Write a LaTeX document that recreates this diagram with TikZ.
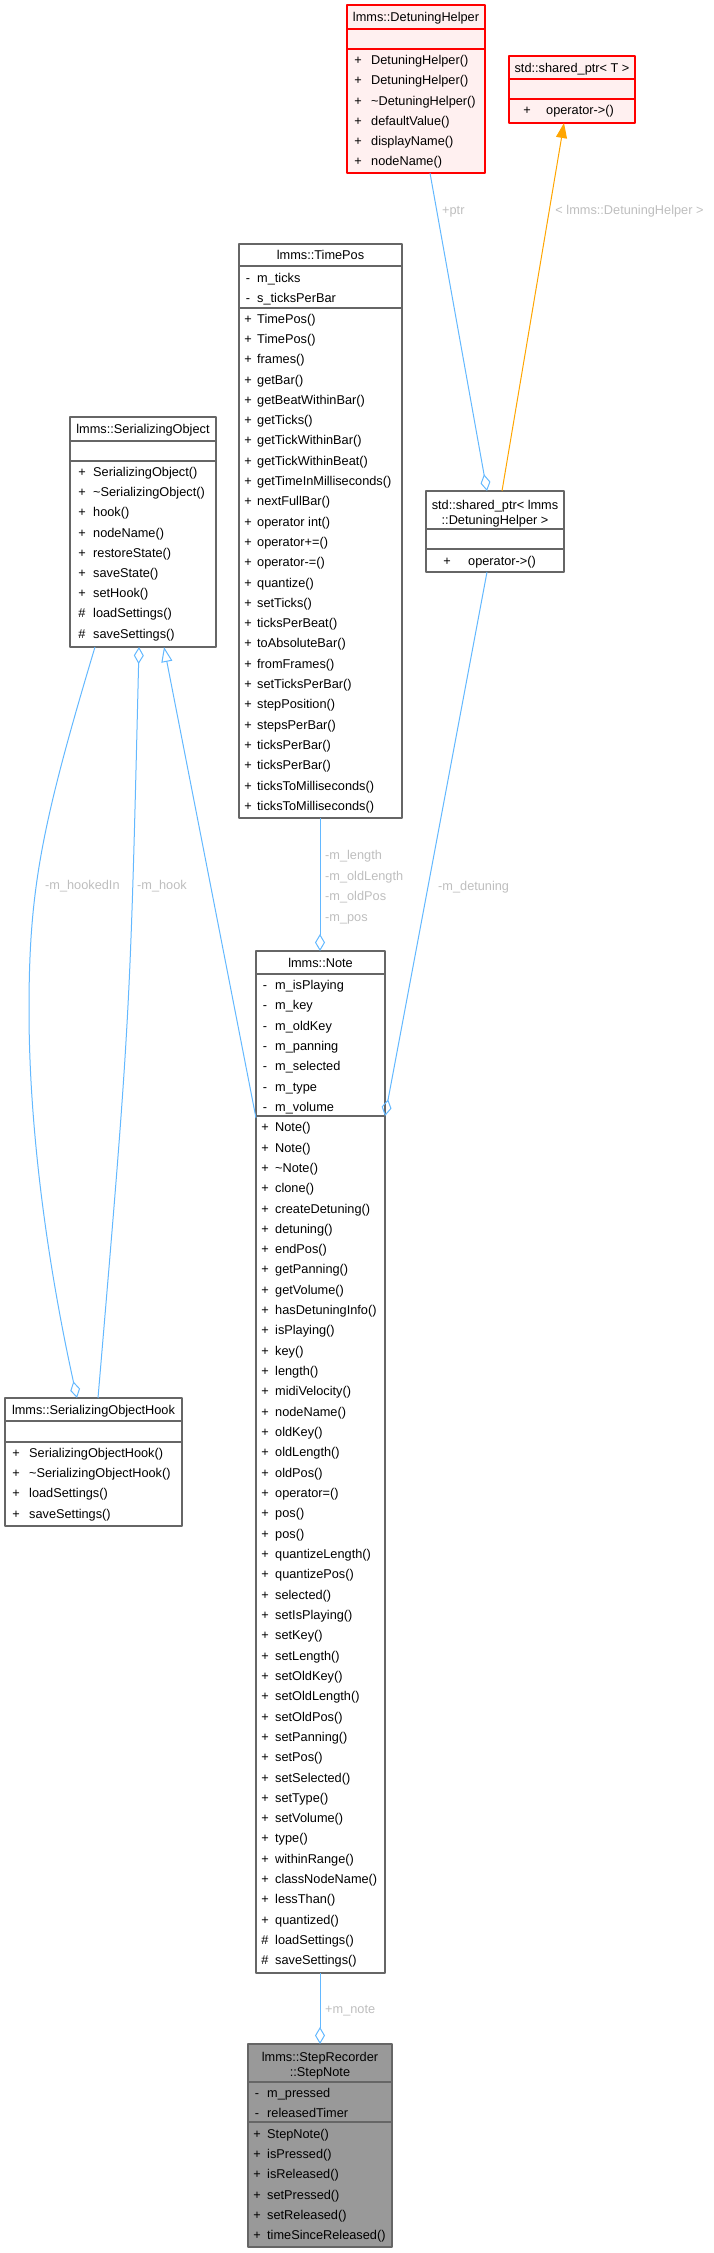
\documentclass[tikz,border=0pt]{standalone}
\usepackage{fontspec}
\setmainfont{Liberation Sans}
\usetikzlibrary{arrows.meta}
\definecolor{boxgray}{HTML}{666666}
\definecolor{rootgray}{HTML}{999999}
\definecolor{undocfill}{HTML}{FFF0F0}
\definecolor{usageblue}{HTML}{63B8FF}
\definecolor{tmplorange}{HTML}{FFA500}
\definecolor{lblgray}{HTML}{BEBEBE}
\tikzset{
  every picture/.style={line join=round, font=\fontsize{12.75}{15}\selectfont},
  classbox/.style={draw=boxgray, line width=1.1pt, fill=white, inner sep=0pt, outer sep=0pt, anchor=north west},
  undoc/.style={classbox, draw=red, fill=undocfill},
  rootbox/.style={classbox, fill=rootgray},
  sepline/.style={draw=boxgray, line width=1.1pt},
  title/.style={inner sep=0pt, anchor=base},
  sgn/.style={inner sep=0pt, anchor=base},
  mem/.style={inner sep=0pt, anchor=base west},
  usage/.style={draw=usageblue, line width=1pt},
  tmpl/.style={draw=tmplorange, line width=1pt},
  lbl/.style={text=lblgray, inner sep=0pt, anchor=base west},
  has/.style={{Diamond[open, length=17pt, width=10pt]}-},
  isa/.style={-{Triangle[open, length=15pt, width=11pt]}},
}
\begin{document}
\begin{tikzpicture}[x=1pt, y=-1pt]
\useasboundingbox (0,0) rectangle (714,2253);

% lmms::DetuningHelper
\node[undoc, minimum width=138pt, minimum height=168pt] (dh) at (347,5) {};
\node[title] (dhtitle) at (416,21.5) {lmms::DetuningHelper};
\draw[sepline, draw=red] (347,29) -- (485,29) (347,49) -- (485,49);
\foreach \s/\m [count=\i from 0] in {+/DetuningHelper(), +/DetuningHelper(), +/\textasciitilde DetuningHelper(),
    +/defaultValue(), +/displayName(), +/nodeName()}{
  \node[sgn] (dhs\i) at (358,60+\i*20.3+4.5) {\s};
  \node[mem] (dhm\i) at (371,60+\i*20.3+4.5) {\m};
}

% std::shared_ptr< T >
\node[undoc, minimum width=126pt, minimum height=67pt] (spT) at (509,56) {};
\node[title] (spTtitle) at (572,72.5) {std::shared\_ptr< T >};
\draw[sepline, draw=red] (509,79) -- (635,79) (509,99) -- (635,99);
\node[sgn] (spTs) at (527,114.5) {+};
\node[mem] (spTm) at (546,114.5) {operator->()};

% std::shared_ptr< lmms::DetuningHelper >
\node[classbox, minimum width=138pt, minimum height=81pt] (spD) at (426,491) {};
\node[title] (spDtitle1) at (495,509.5) {std::shared\_ptr< lmms};
\node[title] (spDtitle2) at (495,524.5) {::DetuningHelper >};
\draw[sepline] (426,529) -- (564,529) (426,549) -- (564,549);
\node[sgn] (spDs) at (447,565.5) {+};
\node[mem] (spDm) at (468,565.5) {operator->()};

% lmms::TimePos
\node[classbox, minimum width=163pt, minimum height=574pt] (tp) at (239,244) {};
\node[title] (tptitle) at (320.5,259.5) {lmms::TimePos};
\draw[sepline] (239,266) -- (402,266) (239,308) -- (402,308);
\foreach \s/\m [count=\i from 0] in {-/m\_ticks, -/s\_ticksPerBar,
    +/TimePos(), +/TimePos(), +/frames(), +/getBar(), +/getBeatWithinBar(), +/getTicks(),
    +/getTickWithinBar(), +/getTickWithinBeat(), +/getTimeInMilliseconds(), +/nextFullBar(),
    +/operator int(), +/operator+=(), +/operator-=(), +/quantize(), +/setTicks(), +/ticksPerBeat(),
    +/toAbsoluteBar(), +/fromFrames(), +/setTicksPerBar(), +/stepPosition(), +/stepsPerBar(),
    +/ticksPerBar(), +/ticksPerBar(), +/ticksToMilliseconds(), +/ticksToMilliseconds()}{
  \node[sgn] (tps\i) at (248,278+\i*20.3+4.5) {\s};
  \node[mem] (tpm\i) at (257,278+\i*20.3+4.5) {\m};
}

% lmms::SerializingObject
\node[classbox, minimum width=146pt, minimum height=230pt] (so) at (70,417) {};
\node[title] (sotitle) at (143,433.5) {lmms::SerializingObject};
\draw[sepline] (70,441) -- (216,441) (70,461) -- (216,461);
\foreach \s/\m [count=\i from 0] in {+/SerializingObject(), +/\textasciitilde SerializingObject(), +/hook(),
    +/nodeName(), +/restoreState(), +/saveState(), +/setHook(), \#/loadSettings(), \#/saveSettings()}{
  \node[sgn] (sos\i) at (82,472+\i*20.2+4.5) {\s};
  \node[mem] (som\i) at (93,472+\i*20.2+4.5) {\m};
}

% lmms::SerializingObjectHook
\node[classbox, minimum width=177pt, minimum height=128pt] (soh) at (5,1398) {};
\node[title] (sohtitle) at (93.5,1414.5) {lmms::SerializingObjectHook};
\draw[sepline] (5,1421) -- (182,1421) (5,1442) -- (182,1442);
\foreach \s/\m [count=\i from 0] in {+/SerializingObjectHook(), +/\textasciitilde SerializingObjectHook(),
    +/loadSettings(), +/saveSettings()}{
  \node[sgn] (sohs\i) at (16,1453+\i*20.2+4.5) {\s};
  \node[mem] (sohm\i) at (29,1453+\i*20.2+4.5) {\m};
}

% lmms::Note
\node[classbox, minimum width=129pt, minimum height=1022pt] (note) at (256,951) {};
\node[title] (notetitle) at (320.5,967.5) {lmms::Note};
\draw[sepline] (256,974) -- (385,974) (256,1116) -- (385,1116);
\foreach \s/\m [count=\i from 0] in {-/m\_isPlaying, -/m\_key, -/m\_oldKey, -/m\_panning, -/m\_selected,
    -/m\_type, -/m\_volume,
    +/Note(), +/Note(), +/\textasciitilde Note(), +/clone(), +/createDetuning(), +/detuning(), +/endPos(),
    +/getPanning(), +/getVolume(), +/hasDetuningInfo(), +/isPlaying(), +/key(), +/length(),
    +/midiVelocity(), +/nodeName(), +/oldKey(), +/oldLength(), +/oldPos(), +/operator=(), +/pos(),
    +/pos(), +/quantizeLength(), +/quantizePos(), +/selected(), +/setIsPlaying(), +/setKey(),
    +/setLength(), +/setOldKey(), +/setOldLength(), +/setOldPos(), +/setPanning(), +/setPos(),
    +/setSelected(), +/setType(), +/setVolume(), +/type(), +/withinRange(), +/classNodeName(),
    +/lessThan(), +/quantized(), \#/loadSettings(), \#/saveSettings()}{
  \node[sgn] (notes\i) at (265,985+\i*20.32+4.5) {\s};
  \node[mem] (notem\i) at (275,985+\i*20.32+4.5) {\m};
}

% lmms::StepRecorder::StepNote
\node[rootbox, minimum width=144pt, minimum height=203pt] (sn) at (248,2044) {};
\node[title] (sntitle1) at (320,2061.5) {lmms::StepRecorder};
\node[title] (sntitle2) at (320,2076.5) {::StepNote};
\draw[sepline] (248,2082) -- (392,2082) (248,2122) -- (392,2122);
\foreach \s/\m [count=\i from 0] in {-/m\_pressed, -/releasedTimer, +/StepNote(), +/isPressed(),
    +/isReleased(), +/setPressed(), +/setReleased(), +/timeSinceReleased()}{
  \node[sgn] (sns\i) at (257,2093+\i*20.3+4.5) {\s};
  \node[mem] (snm\i) at (267,2093+\i*20.3+4.5) {\m};
}

% connectors
\draw[usage, has] ([xshift=61pt]spD.north west) -- ([xshift=83pt]dh.south west);
\node[lbl] (lptr) at (442,214.5) {+ptr};
\draw[tmpl, -{Triangle[length=15pt, width=11pt]}] ([xshift=76pt]spD.north west) -- ([xshift=55pt]spT.south west);
\node[lbl, anchor=base] (ltmpl) at (629.5,214.5) {< lmms::DetuningHelper >};
\draw[usage, has] ([yshift=-165pt]note.north east) -- ([xshift=61pt]spD.south west);
\node[lbl] (ldet) at (438,890.5) {-m\_detuning};
\draw[usage, has] ([xshift=64pt]note.north west) -- ([xshift=81pt]tp.south west);
\foreach \t [count=\i from 0] in {-m\_length, -m\_oldLength, -m\_oldPos, -m\_pos}
  \node[lbl] (ltp\i) at (325,859.5+\i*20.6) {\t};
\draw[usage, isa] ([yshift=-167pt]note.north west) -- ([xshift=94pt]so.south west);
\draw[usage, has] ([xshift=69pt]so.south west) .. controls (130,1020) .. ([xshift=93pt]soh.north west);
\node[lbl] (lhook) at (137,889.5) {-m\_hook};
\draw[usage, has] ([xshift=72pt]soh.north west) .. controls (50.6,1278) and (29,1140) .. (29,1010)
  .. controls (29,890) and (41,827) .. ([xshift=25pt]so.south west);
\node[lbl] (lhooked) at (45,889.5) {-m\_hookedIn};
\draw[usage, has] ([xshift=72pt]sn.north west) -- ([xshift=64pt]note.south west);
\node[lbl] (lnote) at (325,2013.5) {+m\_note};
\end{tikzpicture}
\end{document}
